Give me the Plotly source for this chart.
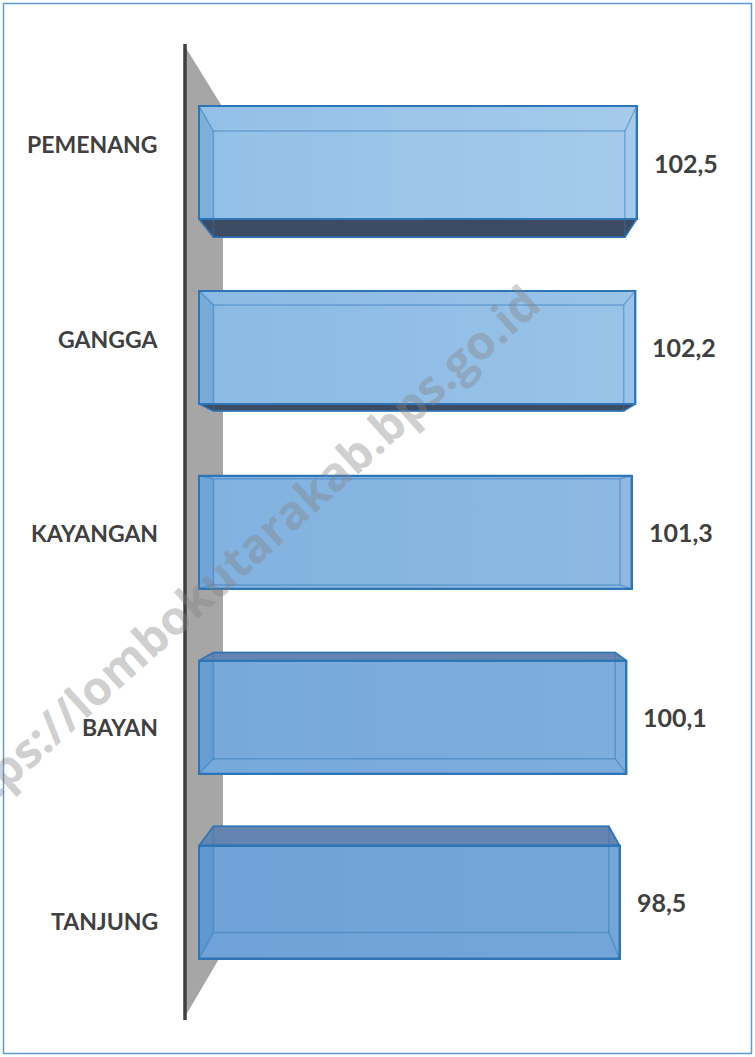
import plotly.graph_objects as go

# ---------------- data ----------------
categories = ["PEMENANG", "GANGGA", "KAYANGAN", "BAYAN", "TANJUNG"]
values = [102.5, 102.2, 101.3, 100.1, 98.5]
value_labels = [f"{v:.1f}".replace(".", ",") for v in values]
watermark = "https://lombokutarakab.bps.go.id"

# ---------------- styling / layout constants ----------------
W, H = 755, 1057
X0, KX = 199.0, 4.27      # pixel of value 0, pixels per unit
Y0, KY = 162.5, 184.9     # pixel of first category centre, pixels per category
HALF = 0.3056             # half bar thickness (category units)
VPX, VPY = (440 - X0) / KX, (524 - Y0) / KY   # vanishing point (data units)
S = 0.94                  # depth scale of the back face
LBL_S = 1.05              # depth scale of the category label plane

front_cols = ["#93c0e7", "#8bbae4", "#82b2e0", "#77a9db", "#6fa3d7"]
grad_alpha = [0.17, 0.13, 0.09, 0.05, 0.03]
edge = "#2e75b6"
dark_face = "#3d4c63"
top_face = "#6385b0"
txt_col = "#404040"


def px_x(p):
    return (p - X0) / KX


def px_y(p):
    return (p - Y0) / KY


def back(x, y):
    return VPX + S * (x - VPX), VPY + S * (y - VPY)


fig = go.Figure()

# front faces as real bars
ypos = list(range(len(categories)))
fig.add_trace(go.Bar(
    x=values, y=ypos, orientation="h", base=0, width=2 * HALF,
    marker=dict(color=front_cols, line=dict(color=edge, width=2)),
    hoverinfo="skip", showlegend=False,
))

for i, v in enumerate(values):
    yt, yb = i - HALF, i + HALF
    blt = back(0, yt); brt = back(v, yt); brb = back(v, yb); blb = back(0, yb)

    # subtle horizontal light gradient on the front face
    fig.add_trace(go.Scatter(
        x=[0, v, v, 0, 0], y=[yt, yt, yb, yb, yt], mode="lines", fill="toself",
        line=dict(width=0), fillgradient=dict(
            type="horizontal",
            colorscale=[[0, "rgba(255,255,255,0)"],
                        [1, f"rgba(255,255,255,{grad_alpha[i]})"]]),
        hoverinfo="skip", showlegend=False))

    # left side face seen through the front
    fig.add_trace(go.Scatter(
        x=[0, blt[0], blb[0], 0, 0], y=[yt, blt[1], blb[1], yb, yt],
        mode="lines", fill="toself", line=dict(width=0),
        fillcolor="rgba(46,117,182,0.22)", hoverinfo="skip", showlegend=False))

    # bottom face (bars above eye level) / top face (bars below eye level)
    if blb[1] > yb:
        fig.add_trace(go.Scatter(
            x=[0, v, brb[0], blb[0], 0], y=[yb, yb, brb[1], blb[1], yb],
            mode="lines", fill="toself", fillcolor=dark_face,
            line=dict(color=edge, width=1.5), hoverinfo="skip", showlegend=False))
    if blt[1] < yt:
        fig.add_trace(go.Scatter(
            x=[0, v, brt[0], blt[0], 0], y=[yt, yt, brt[1], blt[1], yt],
            mode="lines", fill="toself", fillcolor=top_face,
            line=dict(color=edge, width=1.5), hoverinfo="skip", showlegend=False))

    # hidden (back) edges, visible through the transparent box
    lx = [blt[0], brt[0], brb[0], blb[0], blt[0], None,
          0, blt[0], None, v, brt[0], None, v, brb[0], None, 0, blb[0]]
    ly = [blt[1], brt[1], brb[1], blb[1], blt[1], None,
          yt, blt[1], None, yt, brt[1], None, yb, brb[1], None, yb, blb[1]]
    fig.add_trace(go.Scatter(
        x=lx, y=ly, mode="lines", line=dict(color="rgba(46,117,182,0.45)", width=1.5),
        hoverinfo="skip", showlegend=False))

    # front outline on top
    fig.add_trace(go.Scatter(
        x=[0, v, v, 0, 0], y=[yt, yt, yb, yb, yt], mode="lines",
        line=dict(color=edge, width=2), hoverinfo="skip", showlegend=False))

# category labels (on the nearer label plane) and value labels
annotations = []
for i, (c, v, t) in enumerate(zip(categories, values, value_labels)):
    annotations.append(dict(
        x=px_x(160), y=VPY + LBL_S * (i - VPY), xref="x", yref="y", text=c,
        showarrow=False, xanchor="right", yanchor="middle",
        font=dict(family="Lato", size=23, color=txt_col, weight="bold")))
    annotations.append(dict(
        x=v + 15 / KX, y=i, xref="x", yref="y", text=t,
        showarrow=False, xanchor="left", yanchor="middle",
        font=dict(family="Lato", size=25, color=txt_col, weight="bold")))

# watermark
annotations.append(dict(
    x=236 / W, y=1 - 560 / H, xref="paper", yref="paper", text=watermark,
    showarrow=False, textangle=-42, xanchor="center", yanchor="middle",
    font=dict(family="Open Sans", size=47, color="rgba(130,130,130,0.4)",
              weight="bold")))

shapes = [
    # grey wall behind the bars
    dict(type="path", xref="x", yref="y", layer="below",
         path=(f"M {px_x(186)},{px_y(48)} L {px_x(223)},{px_y(108)} "
               f"L {px_x(223)},{px_y(952)} L {px_x(186)},{px_y(1015)} Z"),
         fillcolor="#a6a6a6", line=dict(width=0)),
    # vertical axis line
    dict(type="line", xref="x", yref="y", layer="below",
         x0=px_x(185), x1=px_x(185), y0=px_y(44), y1=px_y(1020),
         line=dict(color="#3f3f3f", width=3.5)),
    # outer chart border
    dict(type="rect", xref="paper", yref="paper",
         x0=3.5 / W, x1=1 - 3.5 / W, y0=3.5 / H, y1=1 - 3.5 / H,
         line=dict(color="#5b9bd5", width=1.5)),
]

fig.update_layout(
    width=W, height=H, margin=dict(l=0, r=0, t=0, b=0),
    paper_bgcolor="white", plot_bgcolor="white",
    xaxis=dict(range=[px_x(0), px_x(W)], visible=False, fixedrange=True),
    yaxis=dict(range=[px_y(H), px_y(0)], visible=False, fixedrange=True),
    bargap=0, annotations=annotations, shapes=shapes, showlegend=False,
)

fig.write_html(
    "out.html",
    config={"displayModeBar": False},
    post_script="document.body.style.margin='0';document.body.style.overflow='hidden';",
)
